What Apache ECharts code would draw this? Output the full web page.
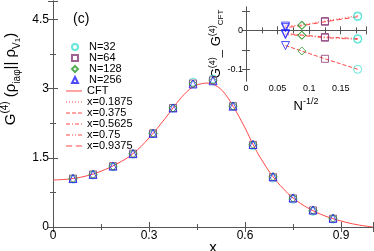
<!DOCTYPE html>
<html><head><meta charset="utf-8">
<script src="https://cdn.jsdelivr.net/npm/echarts@6/dist/echarts.min.js"></script>
<style>html,body{margin:0;padding:0;background:#fff}#c{width:374px;height:251px}</style>
</head><body><div id="c"></div>
<script>
// ---- data ----
const xPts = [0.0625,0.125,0.1875,0.25,0.3125,0.375,0.4375,0.5,0.5625,0.625,0.6875,0.75,0.8125,0.875];
const g32  = [1.04,1.13,1.31,1.58,2.03,2.58,3.14,3.21,2.62,1.76,1.06,0.60,0.34,0.17];
const g64  = [1.05,1.14,1.32,1.59,2.03,2.58,3.11,3.18,2.62,1.78,1.08,0.62,0.36,0.18];
const g128 = [1.05,1.14,1.32,1.59,2.03,2.58,3.10,3.17,2.62,1.79,1.09,0.63,0.36,0.19];
const g256 = [1.05,1.14,1.32,1.59,2.03,2.58,3.10,3.17,2.62,1.79,1.09,0.63,0.37,0.19];
const cftX = [0,0.05,0.1,0.15,0.2,0.25,0.3,0.35,0.4,0.4375,0.46,0.485,0.5,0.53,0.5625,0.6,0.625,0.65,0.6875,0.72,0.75,0.8,0.85,0.9,0.95,1.0];
const cftY = [1.02,1.04,1.10,1.21,1.37,1.59,1.93,2.35,2.80,3.04,3.10,3.12,3.10,2.95,2.62,2.15,1.79,1.48,1.09,0.83,0.63,0.40,0.24,0.13,0.05,0.0];
const invSqrtN = [0.1768,0.125,0.0884,0.0625];
const nNames = ['N=32','N=64','N=128','N=256'];
const lineNames = ['x=0.1875','x=0.375','x=0.5625','x=0.75','x=0.9375'];
const d01875 = [0.0375,0.024,0.014,0.011];
const d0375  = [-0.100,-0.073,-0.053,-0.039];
const d05625 = [-0.021,-0.017,-0.012,-0.008];
const d075   = [-0.023,-0.019,-0.013,-0.011];
const d09375 = [0.035,0.022,0.012,0.007];
const insetYTicks = [-0.1,-0.05,0,0.05];
const insetYLabels = [-0.1,0];

// ---- styles ----
const nColors = ['#40e0d0','#8b3a78','#2a9a2a','#2020ff'];
const nSymbols = ['circle','rect','diamond','triangle'];
const red = '#ff4848';
const dashes = [[1,2],[4,2],[4,2,1,2],[4,2,1,2,1,2],[5,3]];
const diffs = [d01875,d0375,d05625,d075,d09375];
const axisCol = '#555';
const font = 'Liberation Sans';

function dashPath(pattern, w){
  let p = '', x = 0, k = 0;
  if (!pattern) return 'path://M0,0h'+w+'v1h-'+w+'z';
  while (x < w){
    const len = pattern[k % pattern.length];
    if (k % 2 === 0){ const e = Math.min(w, x+len); p += 'M'+x+',0H'+e+'V1H'+x+'Z'; }
    x += len; k++;
  }
  return 'path://'+p;
}

const chart = echarts.init(document.getElementById('c'), null, {renderer:'canvas'});

function frameAxis(base){
  return Object.assign({
    axisLine:{show:true,lineStyle:{color:axisCol,width:1}},
    axisTick:{show:true,inside:true,length:5,lineStyle:{color:axisCol}},
    minorTick:{show:true,splitNumber:2,length:3,lineStyle:{color:axisCol}},
    splitLine:{show:false},
    axisLabel:{show:false}
  }, base);
}

const series = [];
series.push({
  name:'CFT', type:'line', xAxisIndex:0, yAxisIndex:0, smooth:0.4, symbol:'none', showSymbol:false, z:1,
  lineStyle:{color:red,width:1}, itemStyle:{color:red},
  data: cftX.map((x,i)=>[x,cftY[i]])
});
const gArr = [g32,g64,g128,g256];
gArr.forEach((g,j)=>{
  series.push({
    name:nNames[j], type:'scatter', xAxisIndex:0, yAxisIndex:0, symbol:nSymbols[j],
    symbolSize: j===1?7:8, z:3+j,
    itemStyle:{color:'rgba(0,0,0,0)',borderColor:nColors[j],borderWidth:1},
    data: xPts.map((x,i)=>[x,g[i]])
  });
});
diffs.forEach((d,k)=>{
  series.push({
    name:lineNames[k], type:'line', xAxisIndex:2, yAxisIndex:2, symbol:'none', showSymbol:false, z:5,
    lineStyle:{color:red,width:1,type:dashes[k]}, itemStyle:{color:red},
    data: invSqrtN.map((x,i)=>[x,d[i]])
  });
});
nNames.forEach((nm,j)=>{
  series.push({
    name:'inset'+nm, type:'scatter', xAxisIndex:2, yAxisIndex:2, symbol:nSymbols[j],
    symbolRotate: j===3?180:0, symbolSize: j===1?7:8, z:8,
    itemStyle:{color:'rgba(0,0,0,0)',borderColor:nColors[j],borderWidth:1},
    data: diffs.map(d=>[invSqrtN[j],d[j]])
  });
});

const lineLegendData = [{name:'CFT',icon:dashPath(null,16)}].concat(
  lineNames.map((n,k)=>({name:n,icon:dashPath(dashes[k],16)})));

chart.setOption({
  animation:false,
  textStyle:{fontFamily:font},
  grid:[
    {left:53,right:1,top:1,bottom:24,show:false,outerBoundsMode:'none',containLabel:false},
    {left:246,top:7,width:120,height:74,show:true,backgroundColor:'#fff',borderWidth:0,outerBoundsMode:'none',containLabel:false}
  ],
  xAxis:[
    frameAxis({type:'value',gridIndex:0,position:'bottom',min:0,max:1,interval:0.3,
      axisLabel:{show:true,color:'#000',fontSize:12,margin:3,fontFamily:font,showMaxLabel:false},
      name:'x',nameLocation:'middle',nameGap:13,nameMoveOverlap:false,nameTextStyle:{fontSize:15,color:'#000',fontFamily:font}}),
    frameAxis({type:'value',gridIndex:0,position:'top',min:0,max:1,interval:0.3}),
    frameAxis({type:'value',gridIndex:1,position:'bottom',min:0,max:0.19,interval:0.05,
      axisTick:{show:true,inside:true,length:4,lineStyle:{color:axisCol}},
      axisLabel:{show:true,color:'#000',fontSize:9,margin:3,fontFamily:font,showMaxLabel:false},
      name:'{a|N}{s|-1/2}',nameLocation:'middle',nameGap:16,nameMoveOverlap:false,
      nameTextStyle:{rich:{a:{fontSize:13,fontFamily:font,color:'#000',lineHeight:16,verticalAlign:'bottom'},s:{fontSize:9,fontFamily:font,color:'#000',lineHeight:16,verticalAlign:'top'}}}}),
    frameAxis({type:'value',gridIndex:1,position:'top',min:0,max:0.19,interval:0.05,
      axisTick:{show:true,inside:true,length:4,lineStyle:{color:axisCol}}})
  ],
  yAxis:[
    frameAxis({type:'value',gridIndex:0,position:'left',min:0,max:4.9,interval:1.5,
      axisLabel:{show:true,color:'#000',fontSize:12,margin:4,fontFamily:font,showMaxLabel:false},
      name:'{g|G}{s|(4)}{g| (ρ}{b|iaφ}{g||| ρ}{b|V}{bb|1}{g|)}',nameLocation:'middle',nameGap:31,nameRotate:90,nameMoveOverlap:false,
      nameTextStyle:{padding:[0,0,0,70],rich:{
        g:{fontSize:15,fontFamily:font,color:'#000',lineHeight:22,verticalAlign:'middle'},
        s:{fontSize:10,fontFamily:font,color:'#000',lineHeight:22,verticalAlign:'top'},
        b:{fontSize:10,fontFamily:font,color:'#000',lineHeight:22,verticalAlign:'bottom'},
        bb:{fontSize:8,fontFamily:font,color:'#000',lineHeight:22,verticalAlign:'bottom'}
      }}}),
    frameAxis({type:'value',gridIndex:0,position:'right',min:0,max:4.9,interval:1.5}),
    frameAxis({type:'value',gridIndex:1,position:'left',min:-0.13,max:0.06,
      minorTick:{show:false},
      axisTick:{show:true,inside:true,length:4,customValues:insetYTicks,lineStyle:{color:axisCol}},
      axisLabel:{show:true,color:'#000',fontSize:9,margin:3,fontFamily:font,customValues:insetYLabels},
      name:'{g|G}{s|(4)}{g|_ G}{s|(4)}{b|CFT}',nameLocation:'middle',nameGap:21,nameRotate:90,nameMoveOverlap:false,
      nameTextStyle:{rich:{
        g:{fontSize:13,fontFamily:font,color:'#000',lineHeight:17,verticalAlign:'middle'},
        s:{fontSize:9,fontFamily:font,color:'#000',lineHeight:17,verticalAlign:'top'},
        b:{fontSize:8,fontFamily:font,color:'#000',lineHeight:17,verticalAlign:'bottom'}
      }}}),
    frameAxis({type:'value',gridIndex:1,position:'right',min:-0.13,max:0.06,
      minorTick:{show:false},
      axisTick:{show:true,inside:true,length:4,customValues:insetYTicks,lineStyle:{color:axisCol}}})
  ],
  legend:[{
    orient:'vertical',left:66,top:36.5,itemWidth:6,itemHeight:6,itemGap:0,
    textStyle:{fontSize:11,fontFamily:font,color:'#000',lineHeight:11,padding:[0,0,0,6]},
    data: nNames
  },{
    orient:'vertical',left:61,top:80.5,itemWidth:16,itemHeight:8,itemGap:0,
    itemStyle:{borderWidth:0,color:red},
    textStyle:{fontSize:11,fontFamily:font,color:'#000',lineHeight:11},
    data: lineLegendData
  }],
  graphic:[{type:'text',left:73,top:12,style:{text:'(c)',font:'14px "Liberation Sans"',fill:'#000'}}],
  series: series
});
</script></body></html>
